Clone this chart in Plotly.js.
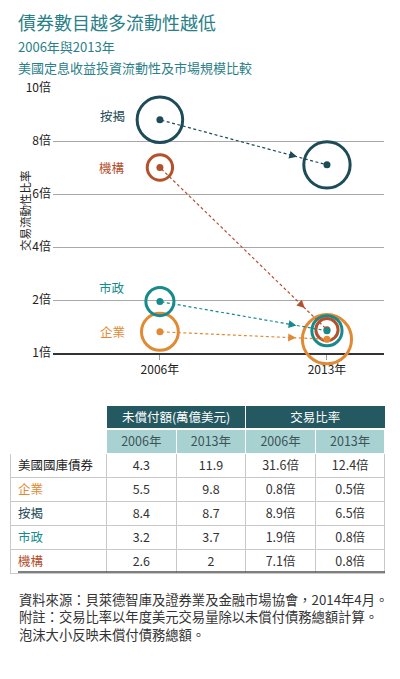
<!DOCTYPE html>
<html>
<head>
<meta charset="utf-8">
<script src="https://cdn.plot.ly/plotly-3.0.1.min.js"></script>
<style>
  html, body { margin: 0; padding: 0; background: #fff; }
  #chart { width: 400px; height: 679px; }
</style>
</head>
<body>
<div id="chart"></div>
<script>
// ---- data ----
const years = [2006, 2013];
const yearLabels = ['2006年', '2013年'];

// series drawn as bubbles (back to front)
const seriesNames = ['企業', '按揭', '市政', '機構'];
const seriesColors = ['#e08a35', '#1d4b58', '#178a8c', '#b4512d'];
// trading ratio as plotted in the chart
const ratio企業 = [1.4, 1.26];
const ratio按揭 = [8.8, 7.1];
const ratio市政 = [1.97, 1.42];
const ratio機構 = [7.0, 1.44];
// outstanding amounts (trillion USD) -> bubble area
const amount企業 = [5.5, 9.8];
const amount按揭 = [8.4, 8.7];
const amount市政 = [3.2, 3.7];
const amount機構 = [2.6, 2];

const yTickValues = [1, 2, 4, 6, 8, 10];
const yTickLabels = ['1倍', '2倍', '4倍', '6倍', '8倍', '10倍'];

// table
const tableRows = ['美國國庫債券', '企業', '按揭', '市政', '機構'];
const tableRowColors = ['#222222', '#e08a35', '#1d4b58', '#178a8c', '#b4512d'];
const outstanding2006 = ['4.3', '5.5', '8.4', '3.2', '2.6'];
const outstanding2013 = ['11.9', '9.8', '8.7', '3.7', '2'];
const tradeRatio2006 = ['31.6倍', '0.8倍', '8.9倍', '1.9倍', '7.1倍'];
const tradeRatio2013 = ['12.4倍', '0.5倍', '6.5倍', '0.8倍', '0.8倍'];
const groupHeaders = ['', '未償付額(萬億美元)', '交易比率'];
const subHeaders = ['', '2006年', '2013年', '2006年', '2013年'];

const titleText = '債券數目越多流動性越低';
const subtitle1 = '2006年與2013年';
const subtitle2 = '美國定息收益投資流動性及市場規模比較';
const notes = [
  '資料來源：貝萊德智庫及證券業及金融市場協會，2014年4月。',
  '附註：交易比率以年度美元交易量除以未償付債務總額計算。',
  '泡沫大小反映未償付債務總額。'
];

const ratios = [ratio企業, ratio按揭, ratio市政, ratio機構];
const amounts = [amount企業, amount按揭, amount市政, amount機構];

// ---- layout helpers ----
const W = 400, H = 679;
const FONT = '"Noto Sans CJK TC", "Noto Sans", sans-serif';
const px = (x) => x / W;
const py = (y) => 1 - y / H;

// the axis is stretched below 2x: 1x..2x takes the same room as 2x..4x
function axisPos(v) {
  return v >= 2 ? v : 2 * v - 2;
}

const traces = [];

// rings
seriesNames.forEach((name, i) => {
  traces.push({
    type: 'scatter',
    mode: 'markers',
    x: years,
    y: ratios[i].map(axisPos),
    cliponaxis: false,
    hoverinfo: 'skip',
    marker: {
      size: amounts[i],
      sizemode: 'area',
      sizeref: 0.0081,
      opacity: 1,
      color: 'rgba(0,0,0,0)',
      line: { color: seriesColors[i], width: 3 }
    }
  });
});

// centre dots
const dotOrder = [3, 0, 2, 1];
dotOrder.forEach((i) => {
  traces.push({
    type: 'scatter',
    mode: 'markers',
    x: years,
    y: ratios[i].map(axisPos),
    cliponaxis: false,
    hoverinfo: 'skip',
    marker: { size: 7, opacity: 1, color: seriesColors[i] }
  });
});

// table: group header row
const HEADER_DARK = '#255962';
const HEADER_LIGHT = '#a8d2d1';
traces.push({
  type: 'table',
  domain: { x: [px(10), px(385)], y: [py(429), py(405)] },
  columnwidth: [97, 140, 140],
  header: {
    values: groupHeaders,
    height: 24,
    align: 'center',
    fill: { color: ['#ffffff', HEADER_DARK, HEADER_DARK] },
    line: { color: '#ffffff', width: 1 },
    font: { family: FONT, size: 12.5, color: '#ffffff' }
  },
  cells: { values: [] }
});

// table: year header + body
traces.push({
  type: 'table',
  domain: { x: [px(10), px(385)], y: [py(590), py(429)] },
  columnwidth: [97, 70, 70, 70, 70],
  header: {
    values: subHeaders,
    height: 24,
    align: 'center',
    fill: { color: ['#ffffff', HEADER_LIGHT, HEADER_LIGHT, HEADER_LIGHT, HEADER_LIGHT] },
    line: { color: '#ffffff', width: 1 },
    font: { family: FONT, size: 12.5, color: '#3d5358' }
  },
  cells: {
    values: [tableRows, outstanding2006, outstanding2013, tradeRatio2006, tradeRatio2013],
    height: 24,
    align: ['left', 'center', 'center', 'center', 'center'],
    fill: { color: '#ffffff' },
    line: { color: '#c9c9c9', width: 1 },
    font: { family: FONT, size: 12.5, color: [tableRowColors, '#333', '#333', '#333', '#333'] }
  }
});

const annotations = [];

// arrows 2006 -> 2013
seriesNames.forEach((name, i) => {
  annotations.push({
    xref: 'x', yref: 'y', axref: 'x', ayref: 'y',
    x: years[1], y: axisPos(ratios[i][1]),
    ax: years[0], ay: axisPos(ratios[i][0]),
    text: '',
    showarrow: true,
    arrowhead: 2,
    arrowsize: 1.3,
    arrowwidth: 1.2,
    arrowcolor: seriesColors[i],
    standoff: 31,
    startstandoff: 7
  });
});

// series labels left of the 2006 bubbles
const labelLift = { '企業': 0, '按揭': 4, '市政': 14, '機構': 0 };
seriesNames.forEach((name, i) => {
  annotations.push({
    xref: 'x', yref: 'y',
    x: years[0], y: axisPos(ratios[i][0]),
    xanchor: 'right', yanchor: 'middle',
    xshift: -33, yshift: labelLift[name],
    text: name,
    showarrow: false,
    font: { family: FONT, size: 12.5, color: seriesColors[i] }
  });
});

// y axis title
annotations.push({
  xref: 'paper', yref: 'paper',
  x: px(25), y: py(211),
  xanchor: 'center', yanchor: 'middle',
  text: '交易流動性比率',
  textangle: -90,
  showarrow: false,
  font: { family: FONT, size: 11.5, color: '#222' }
});

// titles
annotations.push(
  {
    xref: 'paper', yref: 'paper', x: px(17), y: py(36),
    xanchor: 'left', yanchor: 'bottom', showarrow: false,
    borderpad: 0,
    text: titleText,
    font: { family: FONT, size: 18, color: '#2a8088' }
  },
  {
    xref: 'paper', yref: 'paper', x: px(17), y: py(57),
    xanchor: 'left', yanchor: 'bottom', showarrow: false,
    borderpad: 0,
    text: subtitle1,
    font: { family: FONT, size: 13, color: '#2a8088' }
  },
  {
    xref: 'paper', yref: 'paper', x: px(17), y: py(57),
    xanchor: 'left', yanchor: 'top', showarrow: false,
    borderpad: 0,
    text: subtitle2,
    font: { family: FONT, size: 13, color: '#2a8088' }
  }
);

// footnotes
annotations.push({
  xref: 'paper', yref: 'paper', x: px(17), y: py(588),
  xanchor: 'left', yanchor: 'top', align: 'left', showarrow: false,
  text: notes.join('<br>'),
  font: { family: FONT, size: 13.3, color: '#333' }
});

const layout = {
  width: W,
  height: H,
  margin: { l: 0, r: 0, t: 0, b: 0 },
  paper_bgcolor: '#ffffff',
  plot_bgcolor: '#ffffff',
  showlegend: false,
  font: { family: FONT, color: '#222' },
  xaxis: {
    domain: [px(53), px(384)],
    range: [2001.52, 2015.39],
    tickvals: years,
    ticktext: yearLabels,
    showgrid: false,
    zeroline: false,
    showline: true,
    linecolor: '#333',
    linewidth: 1.5,
    ticks: 'outside',
    ticklen: 5,
    tickcolor: '#999',
    tickfont: { family: FONT, size: 12, color: '#222' },
    layer: 'below traces',
    fixedrange: true
  },
  yaxis: {
    domain: [py(353), py(88)],
    range: [0, 10],
    tickvals: yTickValues.map(axisPos),
    ticktext: yTickLabels,
    showgrid: true,
    gridcolor: '#a8a8a8',
    gridwidth: 1,
    zeroline: false,
    showline: false,
    ticks: '',
    ticklabelstandoff: 1,
    tickfont: { family: FONT, size: 12, color: '#222' },
    layer: 'below traces',
    fixedrange: true
  },
  shapes: [
    // darker rule under the table
    {
      type: 'line', xref: 'paper', yref: 'paper',
      x0: px(18), x1: px(385), y0: py(572), y1: py(572),
      line: { color: '#555', width: 1.5 }
    }
  ],
  annotations: annotations
};

// plotly has no dashed annotation arrows, so dash the shafts after drawing
function dashArrows() {
  document.querySelectorAll('#chart .annotation-arrow-g path').forEach((p) => {
    p.style.strokeDasharray = '3px 2.5px';
  });
}

Plotly.newPlot('chart', traces, layout, { displayModeBar: false, staticPlot: true }).then(dashArrows);
</script>
</body>
</html>
